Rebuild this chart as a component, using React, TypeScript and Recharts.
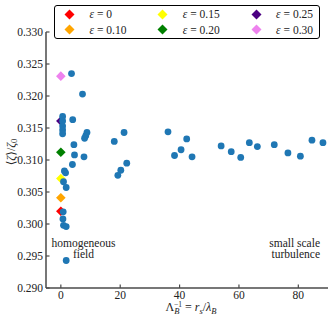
import {
  ScatterChart,
  Scatter,
  XAxis,
  YAxis,
  Legend,
  Customized,
} from 'recharts';

const FONT = '"Liberation Serif", "DejaVu Serif", serif';
const AXIS = '#4a4a4a';
const INK = '#222';

// axis ticks
const xTicks = [0, 20, 40, 60, 80];
const yTicks = [0.29, 0.295, 0.3, 0.305, 0.31, 0.315, 0.32, 0.325, 0.33];

// homogeneous field runs (diamonds at x = 0)
const epsilonLabels = ['0', '0.10', '0.15', '0.20', '0.25', '0.30'];
const epsilonColors = ['#ff0000', '#ffa500', '#ffff00', '#008000', '#4b0082', '#ee82ee'];
const epsilonRatio = [0.302, 0.3041, 0.3071, 0.3112, 0.3161, 0.3231];

// small scale turbulence runs
const scaleX = [
  0.6, 0.6, 0.6, 0.6, 0.6, 3.6, 7.3, 4.0, 8.8, 8.4, 8.0, 4.4, 4.6, 7.8, 3.9,
  1.2, 1.6, 0.9, 1.8, 0.8, 0.7, 0.9, 1.8, 1.8,
  18.0, 21.3, 22.2, 20.2, 19.2, 36.1, 38.3, 40.5, 42.4, 44.2,
  54.0, 57.4, 60.6, 63.5, 66.2, 71.9, 76.5, 80.7, 84.6, 88.3,
];
const scaleRatio = [
  0.3168, 0.3161, 0.3153, 0.3147, 0.3141, 0.3235, 0.3203, 0.3163, 0.3143, 0.3138,
  0.3134, 0.3124, 0.3108, 0.3105, 0.3093, 0.3083, 0.308, 0.3066, 0.3057, 0.3019,
  0.3008, 0.2998, 0.2996, 0.2943,
  0.3129, 0.3143, 0.3095, 0.3084, 0.3076, 0.3144, 0.3107, 0.3116, 0.3133, 0.3105,
  0.3122, 0.3113, 0.3104, 0.3127, 0.3121, 0.3124, 0.3111, 0.3106, 0.3131, 0.3127,
];

const scaleData = scaleX.map((x, i) => ({ x, y: scaleRatio[i] }));

const Diamond = ({ cx, cy, fill, r = 4.8 }: any) => (
  <polygon
    points={`${cx},${cy - r} ${cx + r},${cy} ${cx},${cy + r} ${cx - r},${cy}`}
    fill={fill}
  />
);

const Dot = ({ cx, cy }: any) => <circle cx={cx} cy={cy} r={3.4} fill="#1f77b4" />;

const LeftTick = ({ x, y, payload }: any) => (
  <g>
    <line x1={x + 3} x2={x + 6.5} y1={y} y2={y} stroke={AXIS} strokeWidth={1.2} />
    <text x={x} y={y} dy="0.35em" textAnchor="end" style={{ fontFamily: FONT }} fontSize={11.5} fill={INK}>
      {payload.value.toFixed(3)}
    </text>
  </g>
);

const RightTick = ({ x, y }: any) => (
  <line x1={x - 3.5} x2={x} y1={y} y2={y} stroke={AXIS} strokeWidth={1.2} />
);

const BottomTick = ({ x, y, payload }: any) => (
  <g>
    <line x1={x} x2={x} y1={y - 3} y2={y - 6.5} stroke={AXIS} strokeWidth={1.2} />
    <text x={x} y={y - 0.5} dy="0.71em" textAnchor="middle" style={{ fontFamily: FONT }} fontSize={11.5} fill={INK}>
      {payload.value}
    </text>
  </g>
);

const LegendBox = () => (
  <div
    style={{
      width: 266,
      height: 34,
      boxSizing: 'border-box',
      border: '1px solid #000',
      borderRadius: 3,
      background: '#fff',
      display: 'grid',
      gridTemplateColumns: 'repeat(3, 93.3px)',
      gridTemplateRows: 'repeat(2, 15.6px)',
      gridAutoFlow: 'column',
      padding: '0.5px 0 0 9px',
      fontFamily: FONT,
      fontSize: 11.5,
      color: INK,
    }}
  >
    {epsilonLabels.map((e, i) => (
      <div key={e} style={{ display: 'flex', alignItems: 'center', whiteSpace: 'nowrap' }}>
        <svg width={11} height={11} style={{ display: 'block' }}>
          <Diamond cx={5.5} cy={5.5} r={5} fill={epsilonColors[i]} />
        </svg>
        <span style={{ marginLeft: 14.5 }}>
          <i>ε</i>&nbsp;=&nbsp;{e}
        </span>
      </div>
    ))}
  </div>
);

const txt = { style: { fontFamily: FONT }, fontSize: 11.5, fill: INK };
const sub = { fontSize: 8.5, fontStyle: 'italic' as const };

const Annotations = () => (
  <g>
    <text {...txt} x={83.5} y={246.5} textAnchor="middle">homogeneous</text>
    <text {...txt} x={83.5} y={258} textAnchor="middle">field</text>
    <text {...txt} x={320} y={246.5} textAnchor="end">small scale</text>
    <text {...txt} x={320} y={258} textAnchor="end">turbulence</text>
    <text {...txt} fontSize={12} x={191} y={310.5} textAnchor="middle">
      Λ
      <tspan {...sub} dy={3}>B</tspan>
      <tspan {...sub} fontSize={7.5} fontStyle="normal" dx={-5.5} dy={-6.5}>−1</tspan>
      <tspan dy={3.5}> = </tspan>
      <tspan fontStyle="italic">r</tspan>
      <tspan {...sub} dy={3}>s</tspan>
      <tspan dy={-3}>/</tspan>
      <tspan fontStyle="italic">λ</tspan>
      <tspan {...sub} dy={3}>B</tspan>
    </text>
    <text
      {...txt}
      fontSize={12}
      x={11}
      y={152}
      textAnchor="middle"
      dominantBaseline="central"
      transform="rotate(-90, 11, 152)"
    >
      ⟨<tspan fontStyle="italic">ζ</tspan>⟩/<tspan fontStyle="italic">ζ</tspan>
      <tspan {...sub} fontStyle="normal" dy={3}>0</tspan>
    </text>
  </g>
);

export default function App() {
  return (
    <div style={{ position: 'absolute', left: 0, top: 0, background: '#fff' }}>
      <ScatterChart width={336} height={320} margin={{ top: 32, right: 8, bottom: 7, left: 6 }}>
        <XAxis
          dataKey="x"
          type="number"
          domain={[-5, 90]}
          ticks={xTicks}
          height={25}
          tickSize={0}
          tickMargin={3}
          tickLine={false}
          tick={<BottomTick />}
          axisLine={{ stroke: AXIS, strokeWidth: 1.5 }}
        />
        <XAxis
          xAxisId="top"
          orientation="top"
          type="number"
          domain={[-5, 90]}
          height={0}
          tick={false}
          tickLine={false}
          axisLine={{ stroke: AXIS, strokeWidth: 1.5 }}
        />
        <YAxis
          dataKey="y"
          type="number"
          domain={[0.29, 0.33]}
          ticks={yTicks}
          width={40}
          tickSize={0}
          tickMargin={3}
          tickLine={false}
          tick={<LeftTick />}
          axisLine={{ stroke: AXIS, strokeWidth: 1.5 }}
        />
        <YAxis
          yAxisId="right"
          orientation="right"
          type="number"
          domain={[0.29, 0.33]}
          ticks={yTicks}
          width={0}
          tickSize={0}
          tickMargin={0}
          tickLine={false}
          tick={<RightTick />}
          axisLine={{ stroke: AXIS, strokeWidth: 1.5 }}
        />

        {epsilonLabels.map((e, i) => (
          <Scatter
            key={e}
            name={`ε = ${e}`}
            data={[{ x: 0, y: epsilonRatio[i] }]}
            fill={epsilonColors[i]}
            shape={(p: any) => <Diamond cx={p.cx} cy={p.cy} fill={epsilonColors[i]} />}
            isAnimationActive={false}
          />
        ))}
        <Scatter
          name="scale"
          data={scaleData}
          fill="#1f77b4"
          legendType="none"
          shape={(p: any) => <Dot cx={p.cx} cy={p.cy} />}
          isAnimationActive={false}
        />

        <Customized component={Annotations} />
        <Legend
          layout="horizontal"
          verticalAlign="middle"
          align="center"
          content={() => <LegendBox />}
          wrapperStyle={{ top: 5, left: 54, width: 266 }}
        />
      </ScatterChart>
    </div>
  );
}
